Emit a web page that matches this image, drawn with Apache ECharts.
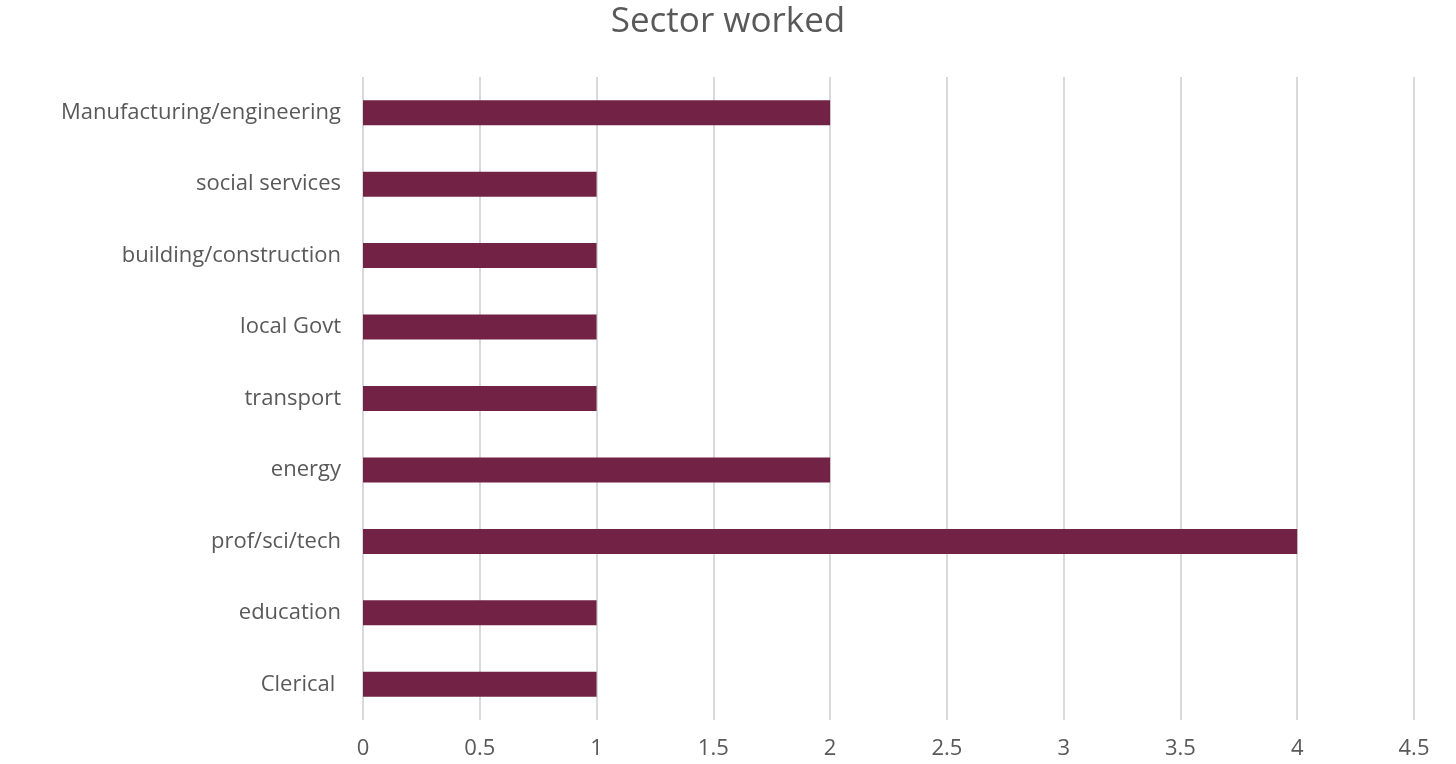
<!DOCTYPE html>
<html><head><meta charset="utf-8">
<script src="https://cdn.jsdelivr.net/npm/echarts@6/dist/echarts.min.js"></script>
<style>html,body{margin:0;padding:0;background:#fff}#c{width:1456px;height:764px}</style>
</head><body><div id="c"></div>
<script>
const categories = ["Clerical ", "education", "prof/sci/tech", "energy", "transport", "local Govt", "building/construction", "social services", "Manufacturing/engineering"];
const values = [1, 1, 4, 2, 1, 1, 1, 1, 2];
const FONT = "'Open Sans', sans-serif";
const chart = echarts.init(document.getElementById('c'));
chart.setOption({
  animation: false,
  title: { text: 'Sector worked', left: 'center', top: 0,
    textStyle: { fontFamily: FONT, fontSize: 35, fontWeight: 'normal', color: '#595959' } },
  grid: { left: 363, right: 42, top: 77, bottom: 44, containLabel: false },
  xAxis: { type: 'value', min: 0, max: 4.5, interval: 0.5,
    axisLine: { show: false }, axisTick: { show: false },
    splitLine: { show: true, lineStyle: { color: '#d9d9d9', width: 2 } },
    axisLabel: { fontFamily: FONT, fontSize: 22, color: '#595959', margin: 18 } },
  yAxis: { type: 'category', data: categories,
    axisLine: { show: false }, axisTick: { show: false },
    axisLabel: { fontFamily: FONT, fontSize: 22, color: '#595959', margin: 22 } },
  series: [{ type: 'bar', data: values, barWidth: '35%',
    itemStyle: { color: '#722245' } }]
});
</script></body></html>
